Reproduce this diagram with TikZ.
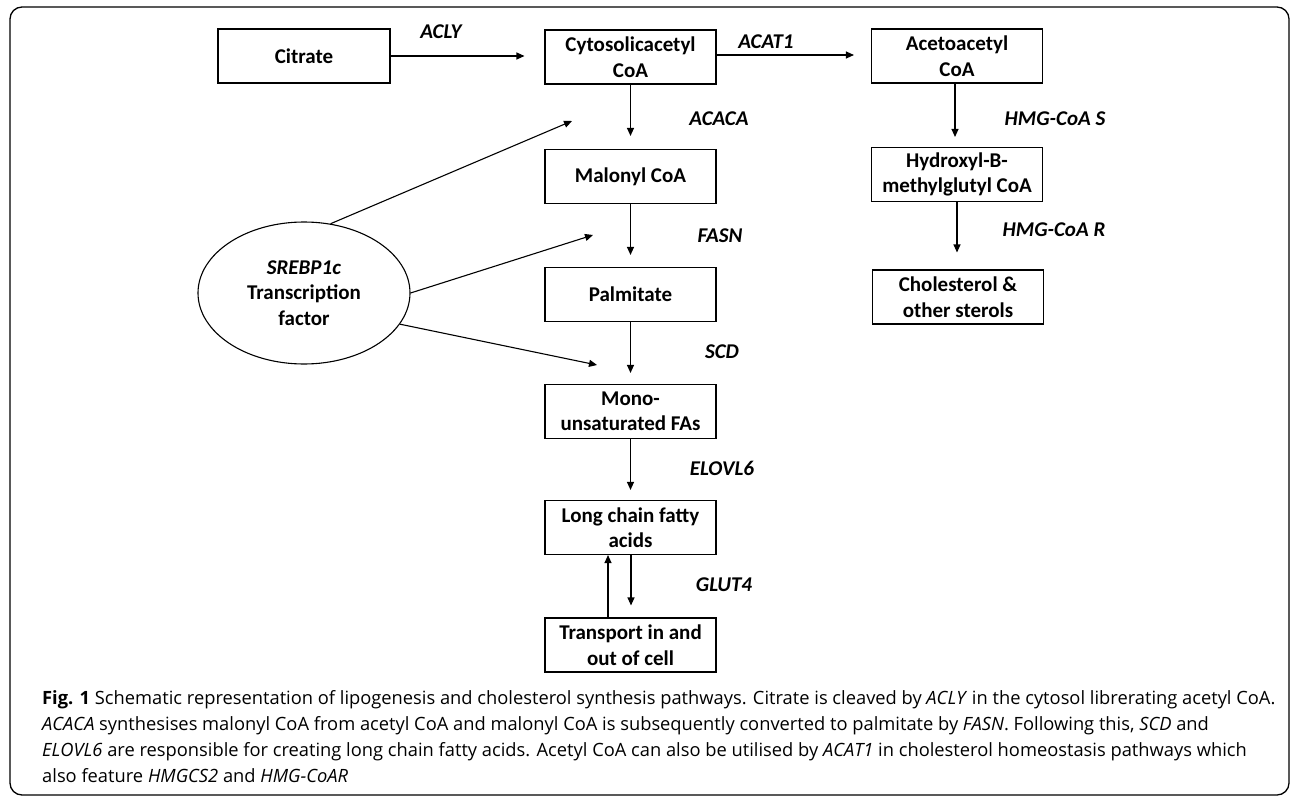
\documentclass[tikz,border=0pt]{standalone}
\usepackage{fontspec}
\setmainfont{Carlito}
\newfontfamily\capfont{Open Sans}
\usetikzlibrary{arrows.meta,shapes.geometric}
\begin{document}
\begin{tikzpicture}[x=1pt,y=-1pt,
  box/.style={draw, line width=1.1pt, minimum width=171pt, minimum height=54pt, inner sep=0pt, align=center, font=\fontsize{21}{25.5}\selectfont\bfseries},
  enz/.style={font=\fontsize{21}{25}\selectfont\bfseries\itshape, inner sep=0pt},
  arr/.style={line width=1.1pt, -{Triangle[length=8pt,width=7pt]}},
  ln/.style={line width=1.1pt},
  capline/.style={anchor=base west, inner sep=0pt, font=\capfont\fontsize{18.3}{26}\selectfont}]
\useasboundingbox (0,0) rectangle (1292,797);
\draw[line width=1.3pt, rounded corners=12pt] (10,7) rectangle (1289,795);

% boxes
\node[box, minimum width=172pt] (cit) at (304,56) {Citrate};
\node[box] (cyt) at (630.5,57) {Cytosolicacetyl\\CoA};
\node[box] (aceto) at (957,56) {Acetoacetyl\\CoA};
\node[box] (hyd) at (957,174.5) {Hydroxyl-B-\\methylglutyl CoA};
\node[box] (chol) at (958,297) {Cholesterol \&\\other sterols};
\node[box] (mal) at (630.5,176.5) {Malonyl CoA};
\node[box] (pal) at (630.5,294.5) {Palmitate};
\node[box] (mono) at (630.5,411.5) {Mono-\\unsaturated FAs};
\node[box] (lcfa) at (630.5,527.5) {Long chain fatty\\acids};
\node[box] (trans) at (630.5,645) {Transport in and\\out of cell};

\node[ellipse, draw, ln, minimum width=212pt, minimum height=142pt, inner sep=0pt, align=center, font=\fontsize{21}{25.5}\selectfont\bfseries] (sre) at (304,293) {\textit{SREBP1c}\\Transcription\\factor};

% enzyme labels
\node[enz] (lacly) at (441,32) {ACLY};
\node[enz] (lacat) at (766,42) {ACAT1};
\node[enz] (lacaca) at (719,119) {ACACA};
\node[enz] (lfasn) at (720,236) {FASN};
\node[enz] (lscd) at (722,352) {SCD};
\node[enz] (lelovl) at (722,468) {ELOVL6};
\node[enz] (lglut) at (724,585) {GLUT4};
\node[enz] (lhmgs) at (1055,119) {HMG-CoA S};
\node[enz] (lhmgr) at (1054,230) {HMG-CoA R};

% arrows
\draw[arr, shorten >=20pt] (cit.east) -- (cit.east -| cyt.west);
\draw[arr, shorten >=17pt] ([yshift=2pt]cyt.east) -- ([yshift=2pt]cyt.east -| aceto.west);
\draw[arr, shorten >=13pt] (cyt.south) -- (mal.north);
\draw[arr, shorten >=12pt] (mal.south) -- (pal.north);
\draw[arr, shorten >=11pt] (pal.south) -- (mono.north);
\draw[arr, shorten >=10pt] (mono.south) -- (lcfa.north);
\draw[arr, shorten >=12pt] ([xshift=0.5pt]lcfa.south) -- ([xshift=0.5pt]trans.north);
\draw[arr] ([xshift=-22.5pt]trans.north) -- ([xshift=-22.5pt]lcfa.south);
\draw[arr, shorten >=10pt] ([xshift=-2pt]aceto.south) -- ([xshift=-2pt]hyd.north);
\draw[arr, shorten >=17pt] (hyd.south) -- (hyd.south |- chol.north);

\coordinate (t1) at (572,121);
\coordinate (t2) at (593,235);
\coordinate (t3) at (597,365);
\draw[arr] (sre.69) -- (t1);
\draw[arr] (sre.0) -- (t2);
\draw[arr] (sre.-18) -- (t3);

% caption
\node[capline] (c1) at (42,704) {\textbf{Fig. 1} Schematic representation of lipogenesis and cholesterol synthesis pathways. Citrate is cleaved by \textit{ACLY} in the cytosol librerating acetyl CoA.};
\node[capline] (c2) at (42,730) {\textit{ACACA} synthesises malonyl CoA from acetyl CoA and malonyl CoA is subsequently converted to palmitate by \textit{FASN}. Following this, \textit{SCD} and};
\node[capline] (c3) at (42,756) {\textit{ELOVL6} are responsible for creating long chain fatty acids. Acetyl CoA can also be utilised by \textit{ACAT1} in cholesterol homeostasis pathways which};
\node[capline] (c4) at (42,782) {also feature \textit{HMGCS2} and \textit{HMG-CoAR}};
\end{tikzpicture}
\end{document}
